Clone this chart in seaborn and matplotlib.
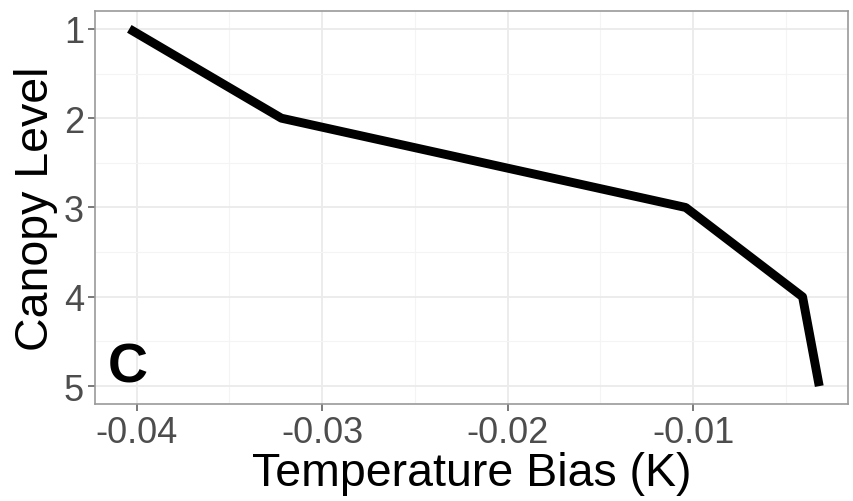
import matplotlib
matplotlib.use("Agg")
import matplotlib.pyplot as plt
import seaborn as sns
import pandas as pd
from matplotlib.ticker import MultipleLocator

# Values
canopy_level = [1, 2, 3, 4, 5]
temp_bias = [-0.0404, -0.0322, -0.0104, -0.0041, -0.0032]
x_ticks = [-0.04, -0.03, -0.02, -0.01]
x_tick_labels = ["-0.04", "-0.03", "-0.02", "-0.01"]
panel_tag = "C"

df = pd.DataFrame({"bias": temp_bias, "level": canopy_level})

sns.set_theme(style="whitegrid")
plt.rcParams["font.family"] = ["Liberation Sans", "DejaVu Sans"]

fig = plt.figure(figsize=(8.54, 5.02), dpi=100)
ax = fig.add_axes([95 / 854, 1 - 405 / 502, (848 - 95) / 854, (405 - 12) / 502])

sns.lineplot(data=df, x="bias", y="level", ax=ax, color="black",
             linewidth=6.4, sort=False, estimator=None)
for ln in ax.get_lines():
    ln.set_solid_capstyle("butt")
    ln.set_solid_joinstyle("round")

ax.set_xlim(-0.04225, -0.00165)
ax.set_ylim(5.2, 0.8)
ax.set_xticks(x_ticks)
ax.set_xticklabels(x_tick_labels)
ax.set_yticks(canopy_level)
ax.xaxis.set_minor_locator(MultipleLocator(0.005))
ax.yaxis.set_minor_locator(MultipleLocator(0.5))

ax.grid(True, which="major", color="#EBEBEB", linewidth=1.3)
ax.grid(True, which="minor", color="#F4F4F4", linewidth=0.8)
ax.set_axisbelow(True)

for s in ax.spines.values():
    s.set_visible(True)
    s.set_color("#9A9A9A")
    s.set_linewidth(1.2)

ax.tick_params(axis="both", which="major", length=5, width=1.1, color="#555555",
               labelsize=26, labelcolor="#4D4D4D", pad=3, direction="out")
ax.tick_params(axis="both", which="minor", length=0)
ax.tick_params(bottom=True, left=True)

ax.set_xlabel("Temperature Bias (K)", fontsize=33.5, color="black", labelpad=1)
ax.set_ylabel("Canopy Level", fontsize=33.5, color="black", labelpad=4)

ax.text(0.017, 0.056, panel_tag, transform=ax.transAxes, fontsize=40,
        fontweight="bold", color="black", ha="left", va="baseline")

fig.savefig("out.png", dpi=100)
